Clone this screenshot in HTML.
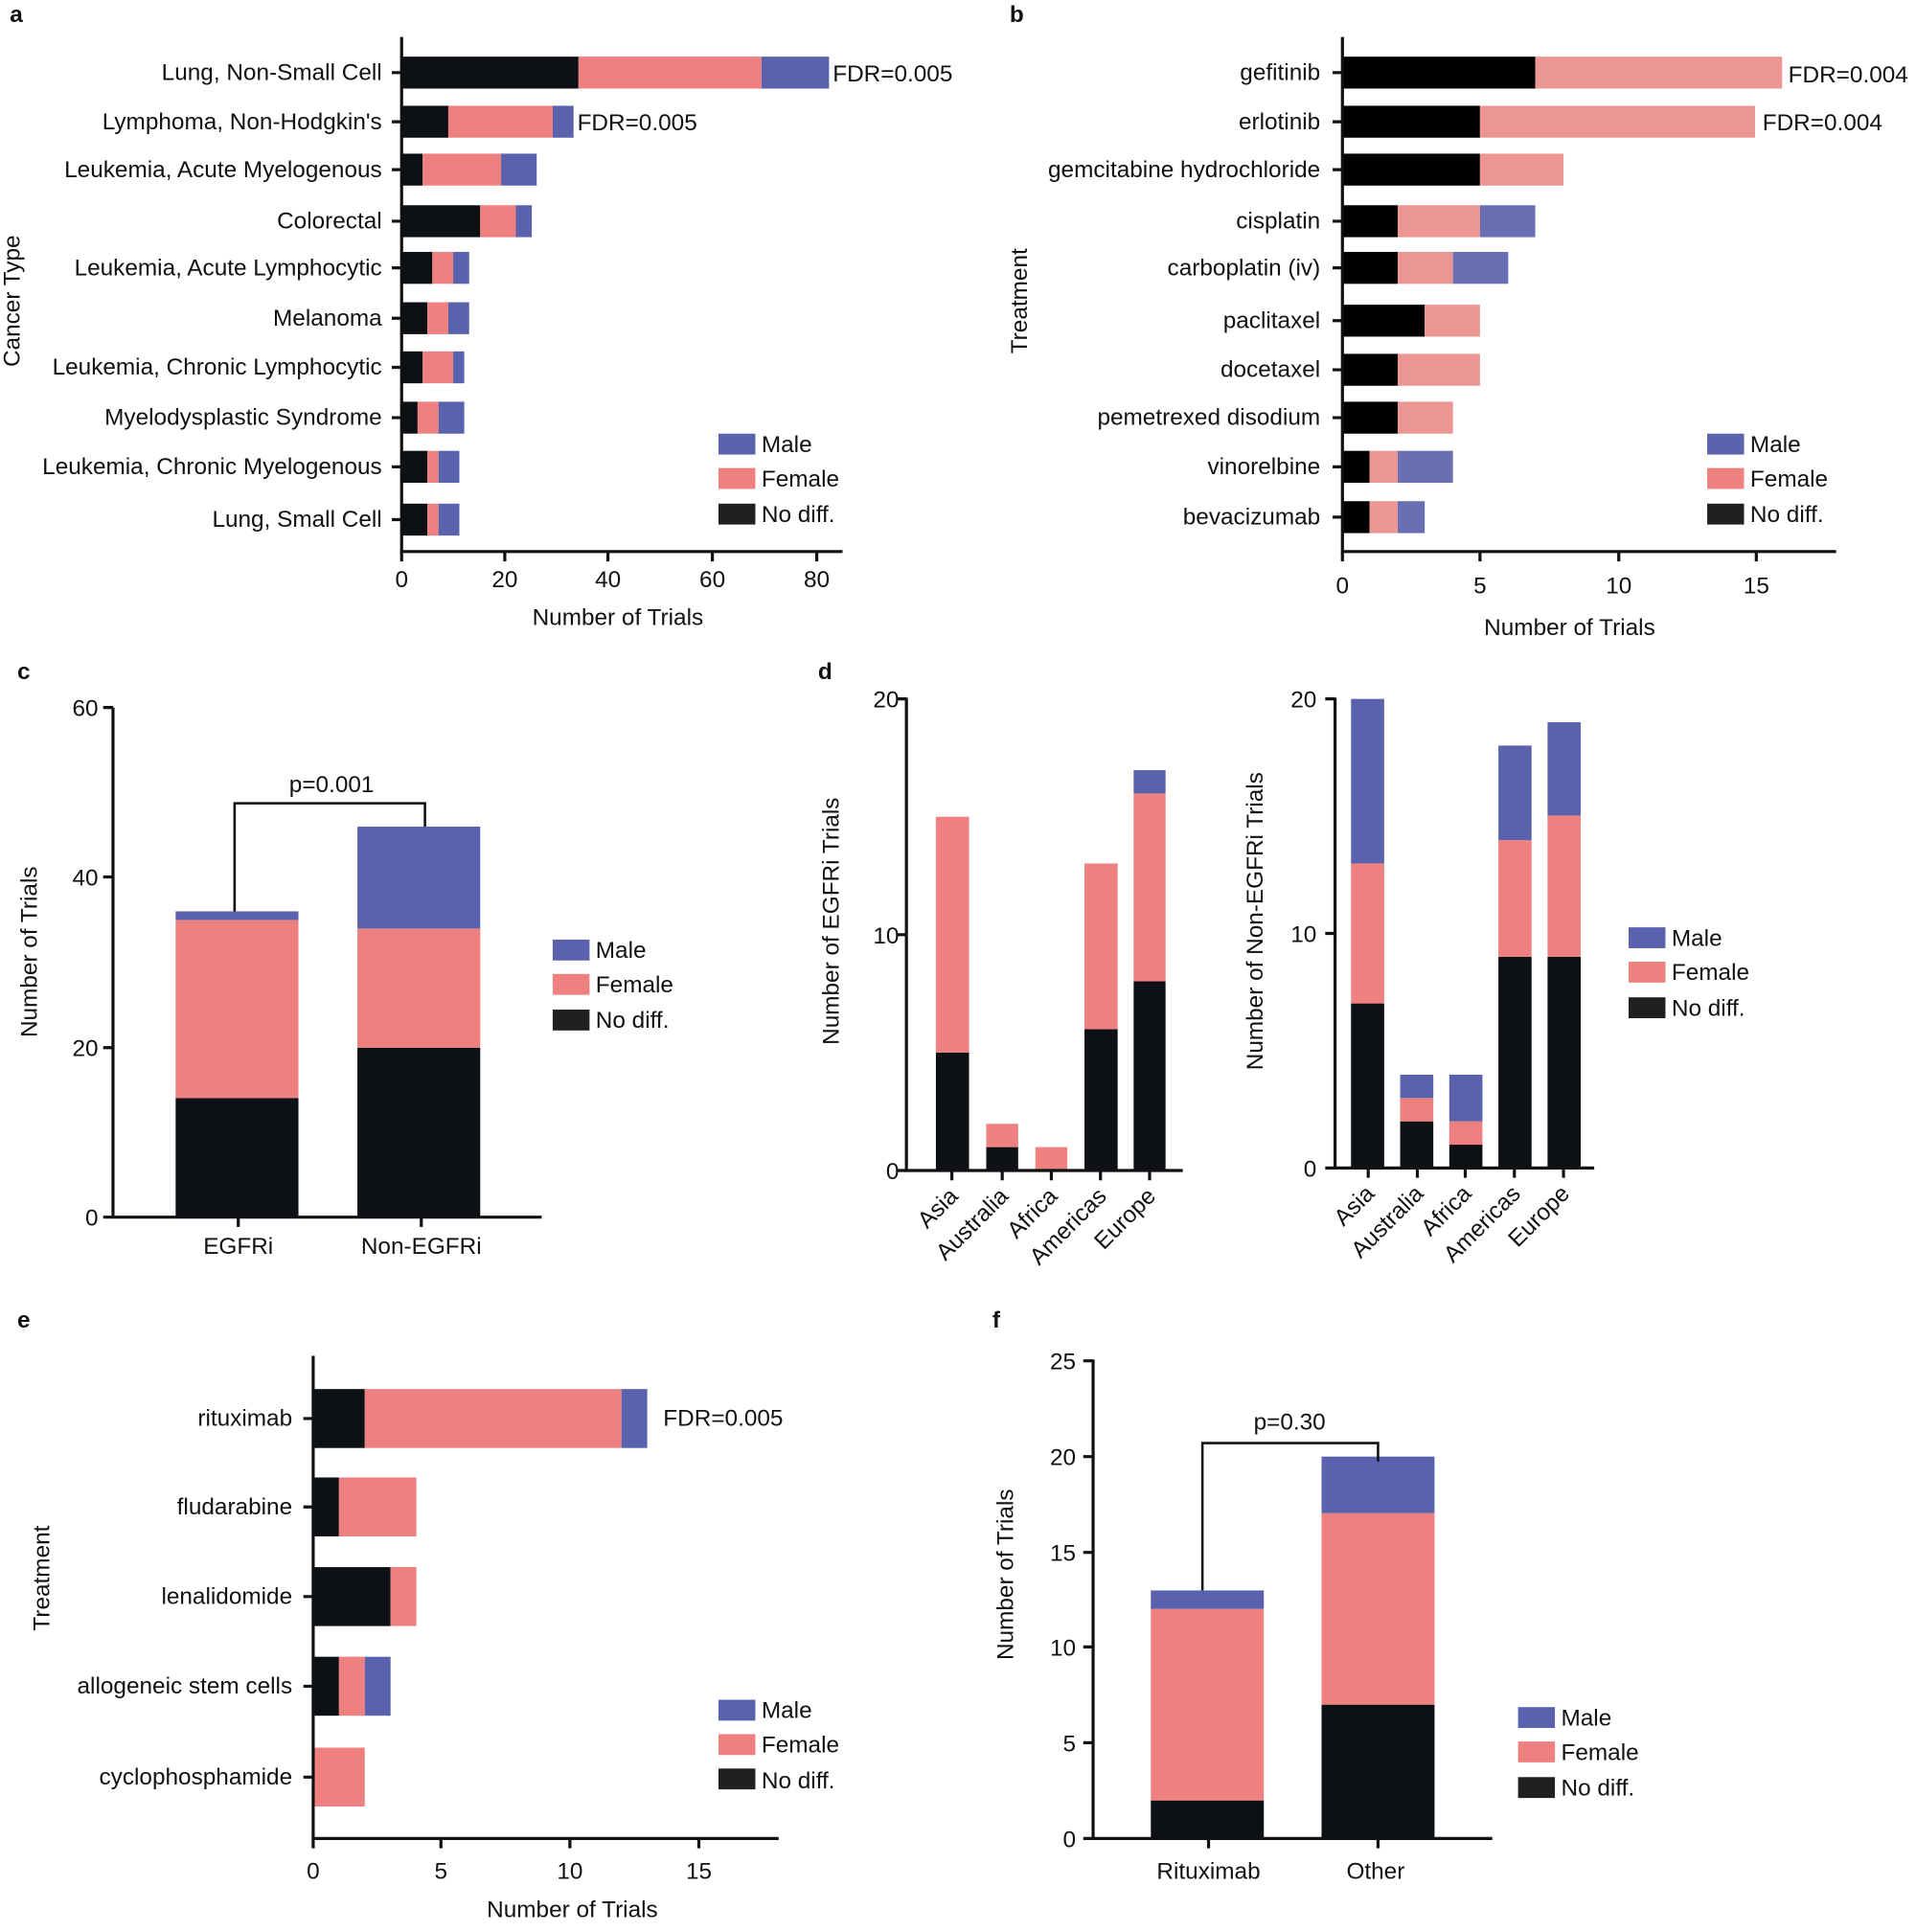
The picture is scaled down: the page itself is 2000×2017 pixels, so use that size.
<!DOCTYPE html>
<html><head><meta charset="utf-8"><style>
html,body{margin:0;padding:0;background:#fff;}
svg{display:block;}
text{font-family:"Liberation Sans",Arial,sans-serif;fill:#111;}
.l{font-size:19px;}
.p{font-size:19px;font-weight:bold;}
</style></head><body>
<svg width="2000" height="2017" viewBox="0 0 1560 1573" xmlns="http://www.w3.org/2000/svg">
<!-- ===== Panel a ===== -->
<text class="p" x="8" y="18">a</text>
<g>
<rect x="327" y="46" width="144" height="26" fill="#0d1014"/><rect x="471" y="46" width="149" height="26" fill="#ee8080"/><rect x="620" y="46" width="55" height="26" fill="#5a62ad"/>
<rect x="327" y="86" width="38" height="26" fill="#0d1014"/><rect x="365" y="86" width="85" height="26" fill="#ee8080"/><rect x="450" y="86" width="17" height="26" fill="#5a62ad"/>
<rect x="327" y="125" width="17" height="26" fill="#0d1014"/><rect x="344" y="125" width="64" height="26" fill="#ee8080"/><rect x="408" y="125" width="29" height="26" fill="#5a62ad"/>
<rect x="327" y="167" width="64" height="26" fill="#0d1014"/><rect x="391" y="167" width="29" height="26" fill="#ee8080"/><rect x="420" y="167" width="13" height="26" fill="#5a62ad"/>
<rect x="327" y="205" width="25" height="26" fill="#0d1014"/><rect x="352" y="205" width="17" height="26" fill="#ee8080"/><rect x="369" y="205" width="13" height="26" fill="#5a62ad"/>
<rect x="327" y="246" width="21" height="26" fill="#0d1014"/><rect x="348" y="246" width="17" height="26" fill="#ee8080"/><rect x="365" y="246" width="17" height="26" fill="#5a62ad"/>
<rect x="327" y="286" width="17" height="26" fill="#0d1014"/><rect x="344" y="286" width="25" height="26" fill="#ee8080"/><rect x="369" y="286" width="9" height="26" fill="#5a62ad"/>
<rect x="327" y="327" width="13" height="26" fill="#0d1014"/><rect x="340" y="327" width="17" height="26" fill="#ee8080"/><rect x="357" y="327" width="21" height="26" fill="#5a62ad"/>
<rect x="327" y="367" width="21" height="26" fill="#0d1014"/><rect x="348" y="367" width="9" height="26" fill="#ee8080"/><rect x="357" y="367" width="17" height="26" fill="#5a62ad"/>
<rect x="327" y="410" width="21" height="26" fill="#0d1014"/><rect x="348" y="410" width="9" height="26" fill="#ee8080"/><rect x="357" y="410" width="17" height="26" fill="#5a62ad"/>
</g>
<g stroke="#111" stroke-width="2.5" fill="none">
<path d="M327 30 V450 M326 449 H686"/>
<path d="M319 59 H327 M319 99 H327 M319 138 H327 M319 180 H327 M319 218 H327 M319 259 H327 M319 299 H327 M319 340 H327 M319 380 H327 M319 423 H327"/>
<path d="M327 449 V457 M411 449 V457 M495 449 V457 M580 449 V457 M665 449 V457"/>
</g>
<g class="l" text-anchor="end">
<text x="311" y="65">Lung, Non-Small Cell</text>
<text x="311" y="105">Lymphoma, Non-Hodgkin's</text>
<text x="311" y="144">Leukemia, Acute Myelogenous</text>
<text x="311" y="186">Colorectal</text>
<text x="311" y="224">Leukemia, Acute Lymphocytic</text>
<text x="311" y="265">Melanoma</text>
<text x="311" y="305">Leukemia, Chronic Lymphocytic</text>
<text x="311" y="346">Myelodysplastic Syndrome</text>
<text x="311" y="386">Leukemia, Chronic Myelogenous</text>
<text x="311" y="429">Lung, Small Cell</text>
</g>
<text class="l" x="678" y="66">FDR=0.005</text>
<text class="l" x="470" y="106">FDR=0.005</text>
<g class="l" text-anchor="middle"><text x="327" y="478">0</text><text x="411" y="478">20</text><text x="495" y="478">40</text><text x="580" y="478">60</text><text x="665" y="478">80</text>
<text x="503" y="509">Number of Trials</text></g>
<text class="l" text-anchor="middle" transform="translate(16,245) rotate(-90)">Cancer Type</text>
<rect x="585" y="353" width="30" height="17" fill="#5a62ad"/><rect x="585" y="381" width="30" height="17" fill="#ee8080"/><rect x="585" y="410" width="30" height="17" fill="#221f20"/>
<g class="l"><text x="620" y="368">Male</text><text x="620" y="396">Female</text><text x="620" y="425">No diff.</text></g>

<!-- ===== Panel b ===== -->
<text class="p" x="822" y="18">b</text>
<g>
<rect x="1093" y="46" width="157" height="26" fill="#000"/><rect x="1250" y="46" width="201" height="26" fill="#ec9693"/>
<rect x="1093" y="86" width="112" height="26" fill="#000"/><rect x="1205" y="86" width="224" height="26" fill="#ec9693"/>
<rect x="1093" y="125" width="112" height="26" fill="#000"/><rect x="1205" y="125" width="68" height="26" fill="#ec9693"/>
<rect x="1093" y="167" width="45" height="26" fill="#000"/><rect x="1138" y="167" width="67" height="26" fill="#ec9693"/><rect x="1205" y="167" width="45" height="26" fill="#6870b3"/>
<rect x="1093" y="205" width="45" height="26" fill="#000"/><rect x="1138" y="205" width="45" height="26" fill="#ec9693"/><rect x="1183" y="205" width="45" height="26" fill="#6870b3"/>
<rect x="1093" y="248" width="67" height="26" fill="#000"/><rect x="1160" y="248" width="45" height="26" fill="#ec9693"/>
<rect x="1093" y="288" width="45" height="26" fill="#000"/><rect x="1138" y="288" width="67" height="26" fill="#ec9693"/>
<rect x="1093" y="327" width="45" height="26" fill="#000"/><rect x="1138" y="327" width="45" height="26" fill="#ec9693"/>
<rect x="1093" y="367" width="22" height="26" fill="#000"/><rect x="1115" y="367" width="23" height="26" fill="#ec9693"/><rect x="1138" y="367" width="45" height="26" fill="#6870b3"/>
<rect x="1093" y="408" width="22" height="26" fill="#000"/><rect x="1115" y="408" width="23" height="26" fill="#ec9693"/><rect x="1138" y="408" width="22" height="26" fill="#6870b3"/>
</g>
<g stroke="#111" stroke-width="2.5" fill="none">
<path d="M1093 30 V450 M1092 449 H1495"/>
<path d="M1085 59 H1093 M1085 99 H1093 M1085 138 H1093 M1085 180 H1093 M1085 218 H1093 M1085 261 H1093 M1085 301 H1093 M1085 340 H1093 M1085 380 H1093 M1085 421 H1093"/>
<path d="M1093 449 V457 M1205 449 V457 M1318 449 V457 M1430 449 V457"/>
</g>
<g class="l" text-anchor="end">
<text x="1075" y="65">gefitinib</text>
<text x="1075" y="105">erlotinib</text>
<text x="1075" y="144">gemcitabine hydrochloride</text>
<text x="1075" y="186">cisplatin</text>
<text x="1075" y="224">carboplatin (iv)</text>
<text x="1075" y="267">paclitaxel</text>
<text x="1075" y="307">docetaxel</text>
<text x="1075" y="346">pemetrexed disodium</text>
<text x="1075" y="386">vinorelbine</text>
<text x="1075" y="427">bevacizumab</text>
</g>
<text class="l" x="1456" y="67">FDR=0.004</text>
<text class="l" x="1435" y="106">FDR=0.004</text>
<g class="l" text-anchor="middle"><text x="1093" y="483">0</text><text x="1205" y="483">5</text><text x="1318" y="483">10</text><text x="1430" y="483">15</text>
<text x="1278" y="517">Number of Trials</text></g>
<text class="l" text-anchor="middle" transform="translate(836,245) rotate(-90)">Treatment</text>
<rect x="1390" y="353" width="30" height="17" fill="#5a62ad"/><rect x="1390" y="381" width="30" height="17" fill="#ee8080"/><rect x="1390" y="410" width="30" height="17" fill="#221f20"/>
<g class="l"><text x="1425" y="368">Male</text><text x="1425" y="396">Female</text><text x="1425" y="425">No diff.</text></g>

<!-- ===== Panel c ===== -->
<text class="p" x="14" y="553">c</text>
<rect x="143" y="894" width="100" height="97" fill="#0d1014"/><rect x="143" y="749" width="100" height="145" fill="#ee8080"/><rect x="143" y="742" width="100" height="7" fill="#5a62ad"/>
<rect x="291" y="853" width="100" height="138" fill="#0d1014"/><rect x="291" y="756" width="100" height="97" fill="#ee8080"/><rect x="291" y="673" width="100" height="83" fill="#5a62ad"/>
<g stroke="#111" stroke-width="2.5" fill="none">
<path d="M92 576 V992 M91 991 H441"/>
<path d="M84 576 H92 M84 714 H92 M84 853 H92 M84 991 H92"/>
<path d="M194 991 V999 M343 991 V999"/>
<path d="M191 742 V654 H346 V673" stroke-width="2"/>
</g>
<g class="l" text-anchor="end"><text x="80" y="583">60</text><text x="80" y="721">40</text><text x="80" y="860">20</text><text x="80" y="998">0</text></g>
<g class="l" text-anchor="middle"><text x="194" y="1021">EGFRi</text><text x="343" y="1021">Non-EGFRi</text><text x="270" y="645">p=0.001</text></g>
<text class="l" text-anchor="middle" transform="translate(30,775) rotate(-90)">Number of Trials</text>
<rect x="450" y="765" width="30" height="17" fill="#5a62ad"/><rect x="450" y="793" width="30" height="17" fill="#ee8080"/><rect x="450" y="822" width="30" height="17" fill="#221f20"/>
<g class="l"><text x="485" y="780">Male</text><text x="485" y="808">Female</text><text x="485" y="837">No diff.</text></g>

<!-- ===== Panel d left ===== -->
<text class="p" x="666" y="553">d</text>
<rect x="762" y="857" width="27" height="96" fill="#0d1014"/><rect x="762" y="665" width="27" height="192" fill="#ee8080"/>
<rect x="803" y="934" width="26" height="19" fill="#0d1014"/><rect x="803" y="915" width="26" height="19" fill="#ee8080"/>
<rect x="843" y="934" width="26" height="19" fill="#ee8080"/>
<rect x="883" y="838" width="27" height="115" fill="#0d1014"/><rect x="883" y="703" width="27" height="135" fill="#ee8080"/>
<rect x="923" y="799" width="26" height="154" fill="#0d1014"/><rect x="923" y="646" width="26" height="153" fill="#ee8080"/><rect x="923" y="627" width="26" height="19" fill="#5a62ad"/>
<g stroke="#111" stroke-width="2.5" fill="none">
<path d="M738 568 V954 M737 953 H963"/>
<path d="M730 569 H738 M730 761 H738 M730 953 H738"/>
<path d="M775 953 V961 M816 953 V961 M856 953 V961 M896 953 V961 M936 953 V961"/>
</g>
<g class="l" text-anchor="end"><text x="732" y="576">20</text><text x="732" y="768">10</text><text x="732" y="960">0</text></g>
<g class="l" text-anchor="end">
<text transform="translate(781,975) rotate(-45)">Asia</text>
<text transform="translate(822,975) rotate(-45)">Australia</text>
<text transform="translate(862,975) rotate(-45)">Africa</text>
<text transform="translate(902,975) rotate(-45)">Americas</text>
<text transform="translate(942,975) rotate(-45)">Europe</text>
</g>
<text class="l" text-anchor="middle" transform="translate(683,750) rotate(-90)">Number of EGFRi Trials</text>

<!-- ===== Panel d right ===== -->
<rect x="1100" y="817" width="27" height="134" fill="#0d1014"/><rect x="1100" y="703" width="27" height="114" fill="#ee8080"/><rect x="1100" y="569" width="27" height="134" fill="#5a62ad"/>
<rect x="1140" y="913" width="27" height="38" fill="#0d1014"/><rect x="1140" y="894" width="27" height="19" fill="#ee8080"/><rect x="1140" y="875" width="27" height="19" fill="#5a62ad"/>
<rect x="1180" y="932" width="27" height="19" fill="#0d1014"/><rect x="1180" y="913" width="27" height="19" fill="#ee8080"/><rect x="1180" y="875" width="27" height="38" fill="#5a62ad"/>
<rect x="1220" y="779" width="27" height="172" fill="#0d1014"/><rect x="1220" y="684" width="27" height="95" fill="#ee8080"/><rect x="1220" y="607" width="27" height="77" fill="#5a62ad"/>
<rect x="1260" y="779" width="27" height="172" fill="#0d1014"/><rect x="1260" y="664" width="27" height="115" fill="#ee8080"/><rect x="1260" y="588" width="27" height="76" fill="#5a62ad"/>
<g stroke="#111" stroke-width="2.5" fill="none">
<path d="M1087 568 V952 M1086 951 H1298"/>
<path d="M1079 569 H1087 M1079 760 H1087 M1079 951 H1087"/>
<path d="M1114 951 V959 M1154 951 V959 M1193 951 V959 M1233 951 V959 M1273 951 V959"/>
</g>
<g class="l" text-anchor="end"><text x="1072" y="576">20</text><text x="1072" y="767">10</text><text x="1072" y="958">0</text></g>
<g class="l" text-anchor="end">
<text transform="translate(1120,973) rotate(-45)">Asia</text>
<text transform="translate(1160,973) rotate(-45)">Australia</text>
<text transform="translate(1199,973) rotate(-45)">Africa</text>
<text transform="translate(1239,973) rotate(-45)">Americas</text>
<text transform="translate(1279,973) rotate(-45)">Europe</text>
</g>
<text class="l" text-anchor="middle" transform="translate(1028,750) rotate(-90)">Number of Non-EGFRi Trials</text>
<rect x="1326" y="755" width="30" height="17" fill="#5a62ad"/><rect x="1326" y="783" width="30" height="17" fill="#ee8080"/><rect x="1326" y="812" width="30" height="17" fill="#221f20"/>
<g class="l"><text x="1361" y="770">Male</text><text x="1361" y="798">Female</text><text x="1361" y="827">No diff.</text></g>

<!-- ===== Panel e ===== -->
<text class="p" x="14" y="1081">e</text>
<rect x="255" y="1131" width="42" height="48" fill="#0d1014"/><rect x="297" y="1131" width="209" height="48" fill="#ee8080"/><rect x="506" y="1131" width="21" height="48" fill="#5a62ad"/>
<rect x="255" y="1203" width="21" height="48" fill="#0d1014"/><rect x="276" y="1203" width="63" height="48" fill="#ee8080"/>
<rect x="255" y="1276" width="63" height="48" fill="#0d1014"/><rect x="318" y="1276" width="21" height="48" fill="#ee8080"/>
<rect x="255" y="1349" width="21" height="48" fill="#0d1014"/><rect x="276" y="1349" width="21" height="48" fill="#ee8080"/><rect x="297" y="1349" width="21" height="48" fill="#5a62ad"/>
<rect x="255" y="1423" width="42" height="48" fill="#ee8080"/>
<g stroke="#111" stroke-width="2.5" fill="none">
<path d="M255 1104 V1498 M254 1497 H634"/>
<path d="M247 1155 H255 M247 1227 H255 M247 1300 H255 M247 1373 H255 M247 1447 H255"/>
<path d="M255 1497 V1505 M359 1497 V1505 M464 1497 V1505 M569 1497 V1505"/>
</g>
<g class="l" text-anchor="end">
<text x="238" y="1161">rituximab</text>
<text x="238" y="1233">fludarabine</text>
<text x="238" y="1306">lenalidomide</text>
<text x="238" y="1379">allogeneic stem cells</text>
<text x="238" y="1453">cyclophosphamide</text>
</g>
<text class="l" x="540" y="1161">FDR=0.005</text>
<g class="l" text-anchor="middle"><text x="255" y="1530">0</text><text x="359" y="1530">5</text><text x="464" y="1530">10</text><text x="569" y="1530">15</text>
<text x="466" y="1561">Number of Trials</text></g>
<text class="l" text-anchor="middle" transform="translate(40,1285) rotate(-90)">Treatment</text>
<rect x="585" y="1384" width="30" height="17" fill="#5a62ad"/><rect x="585" y="1412" width="30" height="17" fill="#ee8080"/><rect x="585" y="1440" width="30" height="17" fill="#221f20"/>
<g class="l"><text x="620" y="1399">Male</text><text x="620" y="1427">Female</text><text x="620" y="1456">No diff.</text></g>

<!-- ===== Panel f ===== -->
<text class="p" x="808" y="1081">f</text>
<rect x="937" y="1466" width="92" height="31" fill="#0d1014"/><rect x="937" y="1310" width="92" height="156" fill="#ee8080"/><rect x="937" y="1295" width="92" height="15" fill="#5a62ad"/>
<rect x="1076" y="1388" width="92" height="109" fill="#0d1014"/><rect x="1076" y="1232" width="92" height="156" fill="#ee8080"/><rect x="1076" y="1186" width="92" height="46" fill="#5a62ad"/>
<g stroke="#111" stroke-width="2.5" fill="none">
<path d="M890 1107 V1498 M889 1497 H1215"/>
<path d="M882 1108 H890 M882 1186 H890 M882 1264 H890 M882 1341 H890 M882 1419 H890 M882 1497 H890"/>
<path d="M984 1497 V1505 M1122 1497 V1505"/>
<path d="M979 1295 V1175 H1122 V1190" stroke-width="2"/>
</g>
<g class="l" text-anchor="end"><text x="876" y="1115">25</text><text x="876" y="1193">20</text><text x="876" y="1271">15</text><text x="876" y="1348">10</text><text x="876" y="1426">5</text><text x="876" y="1504">0</text></g>
<g class="l" text-anchor="middle"><text x="984" y="1530">Rituximab</text><text x="1120" y="1530">Other</text><text x="1050" y="1164">p=0.30</text></g>
<text class="l" text-anchor="middle" transform="translate(825,1282) rotate(-90)">Number of Trials</text>
<rect x="1236" y="1390" width="30" height="17" fill="#5a62ad"/><rect x="1236" y="1418" width="30" height="17" fill="#ee8080"/><rect x="1236" y="1447" width="30" height="17" fill="#221f20"/>
<g class="l"><text x="1271" y="1405">Male</text><text x="1271" y="1433">Female</text><text x="1271" y="1462">No diff.</text></g>
</svg>
</body></html>
